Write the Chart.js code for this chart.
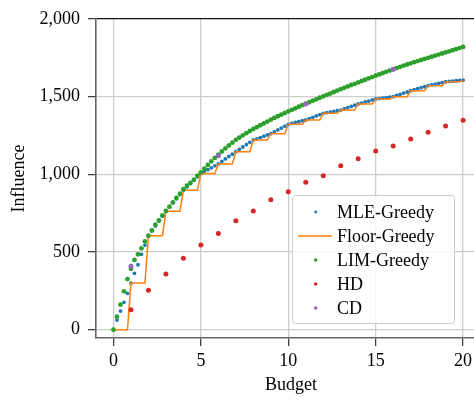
<!DOCTYPE html>
<html>
<head>
<meta charset="utf-8">
<script src="https://cdn.jsdelivr.net/npm/chart.js@4.4.1/dist/chart.umd.min.js"></script>
<style>
  html, body { margin: 0; padding: 0; background: #fff; overflow: hidden; }
  canvas { display: block; }
</style>
</head>
<body>
<canvas id="influenceChart" width="490" height="401"></canvas>
<script>
// budgets sampled every 0.2
const budget = [
    0, 0.2, 0.4, 0.6, 0.8, 1, 1.2, 1.4, 1.6, 1.8,
    2, 2.2, 2.4, 2.6, 2.8, 3, 3.2, 3.4, 3.6, 3.8,
    4, 4.2, 4.4, 4.6, 4.8, 5, 5.2, 5.4, 5.6, 5.8,
    6, 6.2, 6.4, 6.6, 6.8, 7, 7.2, 7.4, 7.6, 7.8,
    8, 8.2, 8.4, 8.6, 8.8, 9, 9.2, 9.4, 9.6, 9.8,
    10, 10.2, 10.4, 10.6, 10.8, 11, 11.2, 11.4, 11.6, 11.8,
    12, 12.2, 12.4, 12.6, 12.8, 13, 13.2, 13.4, 13.6, 13.8,
    14, 14.2, 14.4, 14.6, 14.8, 15, 15.2, 15.4, 15.6, 15.8,
    16, 16.2, 16.4, 16.6, 16.8, 17, 17.2, 17.4, 17.6, 17.8,
    18, 18.2, 18.4, 18.6, 18.8, 19, 19.2, 19.4, 19.6, 19.8,
    20
];

const mleGreedy = [
    0, 62, 120, 176, 234, 300, 363, 418, 485, 545,
    605, 636, 668, 699, 731, 762, 789, 816, 843, 870,
    897, 919, 941, 962, 984, 1005, 1018, 1030, 1042, 1055,
    1067, 1083, 1099, 1115, 1130, 1146, 1161, 1176, 1191, 1206,
    1221, 1229, 1237, 1246, 1254, 1262, 1274, 1286, 1298, 1310,
    1322, 1328, 1334, 1339, 1345, 1350, 1359, 1367, 1376, 1384,
    1393, 1397, 1401, 1406, 1410, 1414, 1422, 1430, 1437, 1445,
    1453, 1459, 1466, 1472, 1479, 1485, 1488, 1491, 1494, 1497,
    1500, 1508, 1515, 1523, 1530, 1538, 1545, 1551, 1558, 1564,
    1571, 1576, 1581, 1586, 1591, 1596, 1598, 1600, 1603, 1605,
    1607
];

const floorGreedy = [
    0, 0, 0, 0, 0, 300, 300, 300, 300, 300,
    605, 605, 605, 605, 605, 762, 762, 762, 762, 762,
    897, 897, 897, 897, 897, 1005, 1005, 1005, 1005, 1005,
    1067, 1067, 1067, 1067, 1067, 1146, 1146, 1146, 1146, 1146,
    1221, 1221, 1221, 1221, 1221, 1262, 1262, 1262, 1262, 1262,
    1322, 1322, 1322, 1322, 1322, 1350, 1350, 1350, 1350, 1350,
    1393, 1393, 1393, 1393, 1393, 1414, 1414, 1414, 1414, 1414,
    1453, 1453, 1453, 1453, 1453, 1485, 1485, 1485, 1485, 1485,
    1500, 1500, 1500, 1500, 1500, 1538, 1538, 1538, 1538, 1538,
    1571, 1571, 1571, 1571, 1571, 1596, 1596, 1596, 1596, 1596,
    1607
];

const limGreedy = [
    0, 84, 161, 247, 326, 392, 449, 485, 524, 569,
    605, 640, 676, 704, 736, 764, 792, 820, 848, 875,
    904, 927, 945, 966, 991, 1013, 1037, 1061, 1084, 1106,
    1127, 1147, 1167, 1186, 1204, 1222, 1237, 1251, 1265, 1279,
    1292, 1304, 1316, 1328, 1340, 1352, 1363, 1374, 1384, 1395,
    1405, 1415, 1425, 1435, 1445, 1455, 1464, 1474, 1483, 1493,
    1502, 1511, 1520, 1530, 1539, 1548, 1557, 1566, 1575, 1583,
    1592, 1601, 1609, 1618, 1626, 1635, 1643, 1651, 1660, 1668,
    1676, 1684, 1692, 1700, 1707, 1715, 1722, 1729, 1736, 1743,
    1750, 1757, 1764, 1771, 1778, 1785, 1792, 1799, 1806, 1813,
    1820
];

const hdBudget = [1, 2, 3, 4, 5, 6, 7, 8, 9, 10, 11, 12, 13, 14, 15, 16, 17, 18, 19, 20];
const hdValues = [129, 254, 358, 460, 545, 620, 702, 764, 837, 888, 949, 991, 1056, 1101, 1150, 1182, 1228, 1271, 1311, 1348];

const cdBudget = [1, 6, 11, 16];
const cdValues = [408, 1120, 1453, 1676];

const xTicks = [0, 5, 10, 15, 20];
const yTicks = [0, 500, 1000, 1500, 2000];

const FONT = "'Liberation Serif', 'Times New Roman', serif";

const toPoints = (xs, ys) => xs.map((x, i) => ({ x: x, y: ys[i] }));

// legend drawn inside the plot, lower right
const insideLegend = {
    id: 'insideLegend',
    afterDraw(chart) {
        const ctx = chart.ctx;
        const box = { x: 292.5, y: 195.5, w: 162, h: 128 };
        ctx.save();
        ctx.beginPath();
        ctx.roundRect(box.x, box.y, box.w, box.h, 3);
        ctx.fillStyle = 'rgba(255,255,255,0.8)';
        ctx.fill();
        ctx.strokeStyle = '#cccccc';
        ctx.lineWidth = 1;
        ctx.stroke();

        ctx.font = '18px ' + FONT;
        ctx.textBaseline = 'alphabetic';
        ctx.textAlign = 'left';
        chart.data.datasets.forEach((ds, i) => {
            const rowY = 212 + i * 24;
            if (ds.showLine) {
                ctx.beginPath();
                ctx.moveTo(298, rowY);
                ctx.lineTo(332, rowY);
                ctx.strokeStyle = ds.borderColor;
                ctx.lineWidth = 1.5;
                ctx.stroke();
            } else {
                ctx.beginPath();
                ctx.arc(315.7, rowY, i === 0 ? 1.4 : 1.8, 0, Math.PI * 2);
                ctx.fillStyle = ds.backgroundColor;
                ctx.fill();
            }
            ctx.fillStyle = '#000';
            ctx.fillText(ds.label, 337, rowY + 6);
        });
        ctx.restore();
    }
};

new Chart(document.getElementById('influenceChart'), {
    type: 'scatter',
    data: {
        datasets: [
            {
                label: 'MLE-Greedy',
                data: toPoints(budget, mleGreedy),
                backgroundColor: '#1f77b4',
                borderColor: '#1f77b4',
                pointRadius: 1.9,
                pointBorderWidth: 0,
                order: 5
            },
            {
                label: 'Floor-Greedy',
                data: toPoints(budget, floorGreedy),
                showLine: true,
                borderColor: '#ff7f0e',
                backgroundColor: '#ff7f0e',
                borderWidth: 1.5,
                pointRadius: 0,
                tension: 0,
                order: 4
            },
            {
                label: 'LIM-Greedy',
                data: toPoints(budget, limGreedy),
                backgroundColor: '#2ca02c',
                borderColor: '#2ca02c',
                pointRadius: 2.4,
                pointBorderWidth: 0,
                order: 3
            },
            {
                label: 'HD',
                data: toPoints(hdBudget, hdValues),
                backgroundColor: '#d62728',
                borderColor: '#d62728',
                pointRadius: 2.5,
                pointBorderWidth: 0,
                order: 2
            },
            {
                label: 'CD',
                data: toPoints(cdBudget, cdValues),
                backgroundColor: '#9467bd',
                borderColor: '#9467bd',
                pointRadius: 2.5,
                pointBorderWidth: 0,
                order: 1
            }
        ]
    },
    options: {
        responsive: false,
        animation: false,
        layout: { padding: { top: 19, left: 0, right: 0, bottom: 0 } },
        plugins: {
            legend: { display: false },
            tooltip: { enabled: false }
        },
        scales: {
            x: {
                type: 'linear',
                min: -1,
                max: 21.31,
                afterBuildTicks: scale => { scale.ticks = xTicks.map(v => ({ value: v })); },
                afterFit: scale => { scale.height = 63; },
                grid: {
                    color: '#cdcdcd',
                    lineWidth: 1.3,
                    tickColor: '#333',
                    tickLength: 8,
                    tickWidth: 1.2
                },
                border: { display: true, color: '#666', width: 1.6 },
                ticks: {
                    color: '#000',
                    padding: 4,
                    maxRotation: 0,
                    font: { family: FONT, size: 18 }
                },
                title: {
                    display: true,
                    text: 'Budget',
                    color: '#000',
                    font: { family: FONT, size: 18 },
                    padding: { top: 0, bottom: 5 }
                }
            },
            y: {
                type: 'linear',
                min: -53.4,
                max: 2000,
                afterBuildTicks: scale => { scale.ticks = yTicks.map(v => ({ value: v })); },
                afterFit: scale => { scale.width = 96; },
                grid: {
                    color: ctx => (ctx.tick && ctx.tick.value === 2000) ? '#111' : '#cdcdcd',
                    lineWidth: 1.3,
                    tickColor: '#333',
                    tickLength: 8,
                    tickWidth: 1.2
                },
                border: { display: true, color: '#666', width: 1.6 },
                ticks: {
                    color: '#000',
                    padding: 8,
                    font: { family: FONT, size: 18 },
                    callback: v => v.toLocaleString('en-US')
                },
                title: {
                    display: true,
                    text: 'Influence',
                    color: '#000',
                    font: { family: FONT, size: 18 },
                    padding: { top: 8, bottom: 0 }
                }
            }
        }
    },
    plugins: [insideLegend]
});
</script>
</body>
</html>
